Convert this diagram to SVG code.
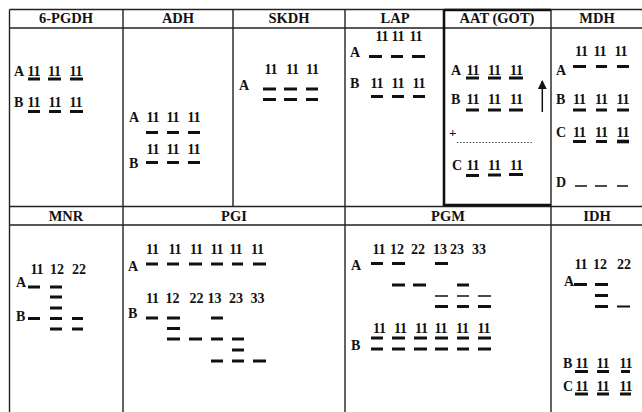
<svg xmlns="http://www.w3.org/2000/svg" width="642" height="412" viewBox="0 0 642 412">
<defs>
<style>
text{font-family:"Liberation Serif","Times New Roman",serif;font-weight:bold;fill:#111}
.h{font-size:14.5px;text-anchor:middle}
.l{font-size:14px}
.n{font-size:14px;text-anchor:middle}
.g{stroke:#222;stroke-width:1.4;fill:none}
.t{stroke:#111;stroke-width:2.6;fill:none}
.b{stroke:#111;stroke-width:3;fill:none}
.s{stroke:#111;stroke-width:1.3;fill:none}
</style>
<marker id="ah" viewBox="0 0 10 10" refX="9" refY="5" markerWidth="6" markerHeight="6" orient="auto-start-reverse"><path d="M0,0 L10,5 L0,10 z" fill="#111"/></marker>
</defs>
<rect width="642" height="412" fill="#fff"/>
<g id="grid">
<path class="g" d="M9.5,9.5 H642 M9.5,28 H642 M9.5,206.5 H642 M9.5,225 H642 M9.5,9.5 V412 M123,9.5 V412 M233,9.5 V206.5 M345,9.5 V412 M551,9.5 V412"/>
<path class="t" d="M444,10 V205 H551 M444,10 H551"/>
</g>
<g id="pgdh6">
<text class="h" x="66" y="23">6-PGDH</text>
<text class="l" x="14" y="76">A</text>
<text class="n" x="34" y="76">11</text><text class="n" x="54.5" y="76">11</text><text class="n" x="76" y="76">11</text>
<path class="b" d="M28,79 h12 M48,79 h13 M70,79 h13"/>
<text class="l" x="14" y="107">B</text>
<text class="n" x="34" y="107">11</text><text class="n" x="55" y="107">11</text><text class="n" x="76" y="107">11</text>
<path class="b" d="M28,111.5 h12 M49,111.5 h12 M70,111.5 h13"/>
</g>
<g id="adh">
<text class="h" x="178" y="23">ADH</text>
<text class="l" x="129" y="122">A</text>
<text class="n" x="153" y="122">11</text><text class="n" x="173" y="122">11</text><text class="n" x="194" y="122">11</text>
<path class="b" d="M146,132.5 h12 M167,132.5 h12 M188,132.5 h12"/>
<text class="n" x="153" y="154">11</text><text class="n" x="173" y="154">11</text><text class="n" x="194" y="154">11</text>
<text class="l" x="129" y="168">B</text>
<path class="b" d="M146,162.5 h12 M167,162.5 h12 M188,162.5 h12"/>
</g>
<g id="skdh">
<text class="h" x="289" y="23">SKDH</text>
<text class="n" x="271" y="74">11</text><text class="n" x="292.5" y="74">11</text><text class="n" x="312.5" y="74">11</text>
<text class="l" x="239" y="90">A</text>
<path class="b" d="M263,89 h13 M284,89 h13 M306,89 h12 M263,99.5 h13 M284,99.5 h13 M306,99.5 h12"/>
</g>
<g id="lap">
<text class="h" x="395" y="23">LAP</text>
<text class="n" x="382" y="41">11</text><text class="n" x="398" y="41">11</text><text class="n" x="416" y="41">11</text>
<text class="l" x="350" y="57">A</text>
<path class="b" d="M369,56.5 h13 M391,56.5 h12 M412,56.5 h13"/>
<text class="l" x="350" y="88">B</text>
<text class="n" x="377" y="88">11</text><text class="n" x="398" y="88">11</text><text class="n" x="419" y="88">11</text>
<path class="b" d="M371,96.5 h12 M392,96.5 h12 M413,96.5 h12"/>
</g>
<g id="aat">
<text class="h" x="497" y="23">AAT (GOT)</text>
<text class="l" x="451" y="75">A</text>
<text class="n" x="473" y="75">11</text><text class="n" x="494.5" y="75">11</text><text class="n" x="516.5" y="75">11</text>
<path class="b" d="M466,78 h13 M488,78 h13 M509,78 h14"/>
<text class="l" x="451" y="104">B</text>
<text class="n" x="473" y="104">11</text><text class="n" x="494.5" y="104">11</text><text class="n" x="516.5" y="104">11</text>
<path class="b" d="M466,110 h13 M488,110 h13 M509,110 h14"/>
<text class="l" x="449" y="137" style="font-size:13px">+</text>
<path d="M457,142.5 H532" stroke="#222" stroke-width="1.2" stroke-dasharray="1.2,2"/>
<text class="l" x="452" y="170">C</text>
<text class="n" x="473" y="170">11</text><text class="n" x="494.5" y="170">11</text><text class="n" x="516.5" y="170">11</text>
<path class="b" d="M466,175.5 h13 M488,175 h13 M509,174.5 h14"/>
<path d="M542.3,112 V81" stroke="#111" stroke-width="1.5" marker-end="url(#ah)"/>
</g>
<g id="mdh">
<text class="h" x="597" y="23">MDH</text>
<text class="n" x="581.5" y="56">11</text><text class="n" x="600" y="56">11</text><text class="n" x="621" y="56">11</text>
<text class="l" x="556" y="75">A</text>
<path class="b" d="M573,66.5 h13 M596,66.5 h11 M617,66.5 h12"/>
<text class="l" x="556" y="104">B</text>
<text class="n" x="579.5" y="104">11</text><text class="n" x="601.5" y="104">11</text><text class="n" x="623" y="104">11</text>
<path class="b" d="M573,110 h13 M596,110 h11 M617,110 h12"/>
<text class="l" x="556" y="137">C</text>
<text class="n" x="579.5" y="137">11</text><text class="n" x="601.5" y="137">11</text><text class="n" x="623" y="137">11</text>
<path class="b" d="M573,141.5 h13 M596,141.5 h11"/>
<path d="M617,141.5 h12" stroke="#111" stroke-width="3.6"/>
<text class="l" x="556" y="187">D</text>
<path class="s" d="M575,186 h12 M595,186 h12 M617,186 h11"/>
</g>
<g id="mnr">
<text class="h" x="66" y="221">MNR</text>
<text class="n" x="37" y="274">11</text><text class="n" x="57" y="274">12</text><text class="n" x="79" y="274">22</text>
<text class="l" x="16" y="287">A</text>
<path class="b" d="M28,287 h12 M50,287 h12 M50,297 h12 M50,308 h12"/>
<text class="l" x="16" y="321">B</text>
<path class="b" d="M28,318.5 h12 M50,318.5 h12 M72,318.5 h11 M50,329 h12 M72,329 h11"/>
</g>
<g id="pgi">
<text class="h" x="234" y="221">PGI</text>
<text class="n" x="152.5" y="254">11</text><text class="n" x="175" y="254">11</text><text class="n" x="196.5" y="254">11</text><text class="n" x="217" y="254">11</text><text class="n" x="236" y="254">11</text><text class="n" x="257.5" y="254">11</text>
<text class="l" x="128" y="271">A</text>
<path class="b" d="M146,264 h12 M167,264 h12 M189,264 h13 M211,264 h12 M232,264 h11 M253,264 h13"/>
<text class="n" x="152.5" y="303">11</text><text class="n" x="172.5" y="303">12</text><text class="n" x="196.5" y="303">22</text><text class="n" x="214.5" y="303">13</text><text class="n" x="236" y="303">23</text><text class="n" x="257.5" y="303">33</text>
<text class="l" x="128" y="318">B</text>
<path class="b" d="M146,318 h12 M167,318 h13 M211,318 h12 M167,328.5 h13 M167,339 h13 M189,339 h13 M211,339 h12 M232,339 h12 M232,350 h12 M211,361 h12 M232,361 h12 M253,361 h13"/>
</g>
<g id="pgm">
<text class="h" x="448" y="221">PGM</text>
<text class="n" x="379" y="254">11</text><text class="n" x="397" y="254">12</text><text class="n" x="418" y="254">22</text><text class="n" x="440" y="254">13</text><text class="n" x="457" y="254">23</text><text class="n" x="479" y="254">33</text>
<text class="l" x="351" y="270">A</text>
<path class="b" d="M371,263.5 h12 M392,263.5 h13 M435,263.5 h13 M392,285 h13 M413,285 h13 M457,285 h12 M435,306.5 h13 M457,306.5 h12 M478,306.5 h13"/>
<path class="s" d="M435,296 h13 M457,296 h12 M478,296 h13"/>
<text class="n" x="379.5" y="333">11</text><text class="n" x="400.5" y="333">11</text><text class="n" x="421.5" y="333">11</text><text class="n" x="441" y="333">11</text><text class="n" x="462.5" y="333">11</text><text class="n" x="484" y="333">11</text>
<text class="l" x="351" y="350">B</text>
<path class="b" d="M371,338 h12 M392,338 h13 M414,338 h13 M435,338 h13 M457,338 h12 M478,338 h13 M371,349 h12 M392,349 h13 M414,349 h13 M435,349 h13 M457,349 h12 M478,349 h13"/>
</g>
<g id="idh">
<text class="h" x="597" y="221">IDH</text>
<text class="n" x="581" y="269">11</text><text class="n" x="600" y="269">12</text><text class="n" x="624" y="269">22</text>
<text class="l" x="564" y="286">A</text>
<path class="b" d="M574,284.5 h13 M595,284.5 h13 M595,295.5 h13 M595,306.5 h13"/>
<path d="M617,306.5 h13" stroke="#111" stroke-width="2"/>
<text class="l" x="563" y="368">B</text>
<text class="n" x="582" y="368">11</text><text class="n" x="603" y="368">11</text><text class="n" x="626" y="368">11</text>
<path class="b" d="M575,371.5 h13 M597,371.5 h12 M621,371.5 h9"/>
<text class="l" x="563" y="391">C</text>
<text class="n" x="582" y="391">11</text><text class="n" x="603" y="391">11</text><text class="n" x="626" y="391">11</text>
<path class="b" d="M575,394 h13 M597,394 h12 M620,394 h11"/>
</g>
</svg>
